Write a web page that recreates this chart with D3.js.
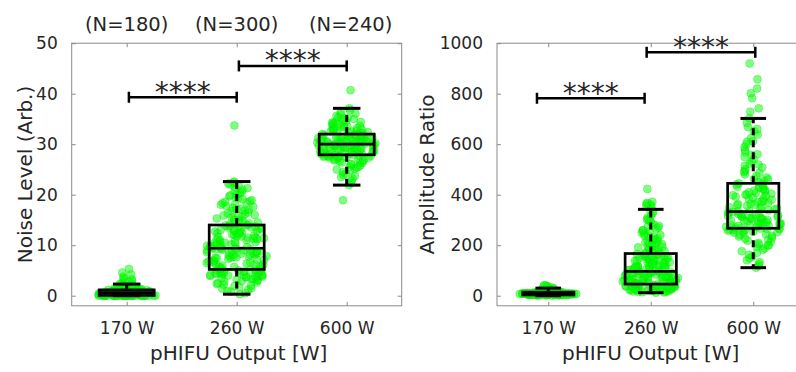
<!DOCTYPE html>
<html><head><meta charset="utf-8">
<script src="https://cdn.jsdelivr.net/npm/d3@7"></script>
<style>
body{margin:0;background:#fff}
svg{display:block}
text{font-family:"DejaVu Sans",sans-serif;fill:#262626}
</style>
</head><body>
<svg id="c" width="796" height="372"></svg>
<script>
// ---------------- DATA ----------------
const categories = ["170 W", "260 W", "600 W"];
const groupCounts = [180, 300, 240];
const noiseTicks = [0, 10, 20, 30, 40, 50];
const ampTicks = [0, 200, 400, 600, 800, 1000];

// Noise level samples (Arb.)
const noise170 = [0,0,0,0,0,0,0,0,0,0,0,0,0,0,0,0,0,0,0,0,0,0,0,0,0,0,0,0,0,0,
0.05,0.08,0.1,0.12,0.15,0.18,0.2,0.22,0.25,0.27,0.3,0.32,0.34,0.36,0.38,0.4,0.42,0.44,0.46,0.48,0.5,0.52,0.53,0.54,0.55,0.55,0.56,0.57,0.58,0.6,
0.62,0.64,0.66,0.68,0.7,0.72,0.74,0.76,0.78,0.8,0.82,0.84,0.86,0.88,0.9,0.92,0.94,0.96,0.98,1.0,1.02,1.04,1.06,1.08,1.1,1.12,1.13,1.14,1.15,1.16,
1.2,1.25,1.3,1.35,1.4,1.45,1.5,1.55,1.6,1.7,1.8,1.9,2.0,2.1,2.2,2.3,
2.5,2.7,2.9,3.1,3.3,3.5,3.8,4.2,4.6,5.3];
const noise260 = [0.3,0.5,0.8,1.0,1.2,1.4,1.5,1.7,1.9,2.0,2.2,2.3,2.5,2.6,2.8,2.9,3.0,3.1,3.2,3.3,3.4,3.5,3.6,3.7,3.8,3.8,3.9,3.9,4.0,4.0,4.1,4.1,4.2,4.3,4.3,4.4,4.5,4.5,4.6,4.6,4.7,4.8,4.8,4.9,4.9,5.0,5.0,5.1,5.1,5.2,
5.3,5.4,5.6,5.7,5.7,5.9,6.0,6.2,6.2,6.3,6.5,6.6,6.6,6.8,6.9,7.0,7.1,7.1,7.3,7.4,7.5,7.5,7.7,7.8,7.8,8.0,8.1,8.1,8.2,8.4,8.4,8.5,8.6,8.7,8.8,8.8,8.9,9.0,9.0,9.1,9.2,9.2,9.3,9.3,9.4,9.4,5.5,6.4,7.6,8.3,
9.5,9.6,9.8,9.9,9.9,10.1,10.2,10.4,10.4,10.6,10.7,10.8,11.0,11.0,11.2,11.3,11.5,11.5,11.7,11.8,11.9,12.1,12.1,12.3,12.4,12.5,12.6,12.8,12.9,12.9,13.1,13.2,13.3,13.5,13.5,13.7,13.8,13.9,14.0,14.0,9.7,10.5,11.1,11.6,12.2,12.7,13.0,13.6,10.0,11.4,
14.1,14.3,14.5,14.6,14.8,15.0,15.1,15.3,15.5,15.6,15.8,16.0,16.2,16.3,16.5,16.7,16.9,17.0,17.2,17.4,17.6,17.8,18.0,18.1,18.3,18.5,18.7,18.9,19.1,19.3,19.5,19.7,19.9,20.1,20.3,20.6,20.8,21.0,21.3,21.5,21.8,22.0,22.2,22.4,22.6,14.9,15.9,17.1,18.6,
33.7];
const noise600 = [21.9,22.3,22.8,23.2,23.5,23.9,24.2,24.5,24.8,25.0,25.2,25.4,25.6,25.8,26.0,26.1,26.3,26.4,26.5,26.6,26.7,26.8,26.9,27.0,27.1,27.2,27.3,27.3,27.4,27.5,27.5,27.6,27.6,27.7,27.7,27.8,27.8,27.9,23.7,25.5,
27.9,28.0,28.1,28.1,28.2,28.3,28.3,28.4,28.5,28.5,28.6,28.7,28.7,28.8,28.9,28.9,29.0,29.0,29.1,29.2,29.2,29.3,29.3,29.4,29.5,29.5,29.6,29.6,29.7,29.7,29.8,29.8,29.9,29.9,30.0,30.0,28.2,28.6,29.1,29.4,
30.0,30.1,30.1,30.2,30.2,30.3,30.3,30.4,30.5,30.5,30.6,30.6,30.7,30.8,30.8,30.9,30.9,31.0,31.0,31.1,31.2,31.2,31.3,31.3,31.4,31.5,31.5,31.6,31.6,31.7,31.7,31.8,31.8,31.9,31.9,32.0,30.4,30.7,31.1,31.4,
32.1,32.2,32.3,32.4,32.5,32.6,32.7,32.8,32.9,33.0,33.1,33.3,33.4,33.5,33.7,33.8,34.0,34.1,34.3,34.5,34.6,34.8,35.0,35.2,35.4,35.6,35.9,36.1,36.4,36.7,37.1,32.5,33.2,33.9,34.4,35.1,32.8,33.6,
40.7,18.9];

// Amplitude ratio samples
const amp170 = [0,1,1,2,2,2,3,3,3,3,3,4,4,4,4,4,5,5,5,5,5,5,6,6,6,6,6,6,7,7,7,7,7,7,7,8,8,8,8,8,8,8,9,9,9,9,9,9,10,10,10,10,10,11,11,11,11,11,12,12,12,12,13,13,13,13,14,14,14,14,15,15,15,16,16,16,17,17,18,18,19,19,20,20,21,22,22,23,24,25,26,27,28,30,32,34,36,38,40,42,2,3,4,5,6,7,8,9,10,11,5,6,7,8,9,4,3,6,8,10];
const amp260 = [12,13,14,15,16,17,18,19,20,21,22,23,24,25,26,27,28,29,30,30,31,32,33,33,34,35,35,36,37,37,38,39,39,40,40,41,42,42,43,43,44,44,45,45,46,46,20,28,35,41,
47,48,49,50,51,52,53,54,55,56,57,58,59,60,61,62,63,64,65,66,67,68,69,70,71,72,73,74,75,76,77,78,79,80,81,82,83,84,85,86,87,88,89,90,91,92,93,94,95,96,
97,99,100,102,103,105,106,108,110,111,113,115,116,118,120,121,123,125,127,128,130,132,134,135,137,139,141,142,144,146,148,150,151,153,155,157,158,160,162,164,165,167,104,117,126,138,149,156,112,133,
170,173,176,179,182,185,188,192,195,198,202,205,209,212,216,220,224,228,232,236,240,245,250,255,260,265,270,276,282,288,295,302,310,318,326,334,342,180,194,207,222,238,258,274,300,
352,356,360,364,368,372,423];
const amp600 = [111,118,126,133,140,148,155,162,170,176,182,188,194,199,204,209,214,218,222,226,230,234,237,240,243,246,249,251,253,255,257,259,261,262,263,264,265,266,267,200,
268,270,272,273,275,277,278,280,282,283,285,287,288,290,292,293,295,297,298,300,302,303,305,307,308,310,312,313,315,317,318,320,322,323,325,327,328,330,332,333,
335,338,341,344,347,350,353,356,359,362,365,368,371,374,377,380,383,386,389,392,395,398,401,404,407,410,413,416,419,422,425,428,431,434,437,440,443,445,360,400,
450,456,462,468,474,480,487,494,501,508,515,523,531,540,549,558,568,578,589,600,612,625,638,652,668,685,702,460,490,520,560,610,660,
729,742,782,802,821,857,920];

// Box statistics: [lower whisker, Q1, median, Q3, upper whisker]
const noiseBoxes = [[0, 0.05, 0.6, 1.15, 2.3], [0.3, 5.2, 9.4, 14.0, 22.6], [21.9, 27.9, 30.0, 32.0, 37.1]];
const ampBoxes = [[0, 3, 8, 14, 30], [12, 46, 96, 167, 342], [111, 267, 333, 445, 702]];

// Significance brackets: [from category, to category, level]
const noiseSig = [[1.02, 2.0, 39.3], [2.02, 3.0, 45.5]];
const ampSig = [[0.89, 1.94, 782], [1.96, 3.02, 964]];
const sigLabel = "****";

// ---------------- DRAW ----------------
const svg = d3.select("#c");
svg.append("rect").attr("width", 796).attr("height", 372).attr("fill", "#fff");

const panels = [
  {x0: 71.7, x1: 401.7, yDom: [-2, 50], ticks: noiseTicks, groups: [noise170, noise260, noise600],
   boxes: noiseBoxes, sig: noiseSig, ylabel: "Noise Level (Arb.)", ylabX: 31.5, showN: true},
  {x0: 497, x1: 804.5, yDom: [-40, 1000], ticks: ampTicks, groups: [amp170, amp260, amp600],
   boxes: ampBoxes, sig: ampSig, ylabel: "Amplitude Ratio", ylabX: 433.5, showN: false}
];
const yTop = 43.2, yBot = 305.8;
const FONT = '"DejaVu Sans",sans-serif';

// deterministic hash used only for horizontal jitter placement
const hash = i => { const s = Math.sin((i + 1) * 78.233 + 12.9898) * 43758.5453; return s - Math.floor(s); };

panels.forEach(p => {
  const x = d3.scaleLinear().domain([0.5, 3.5]).range([p.x0, p.x1]);
  const y = d3.scaleLinear().domain(p.yDom).range([yBot, yTop]);
  const unit = x(2) - x(1);
  const g = svg.append("g");

  // frame
  g.append("rect").attr("x", p.x0).attr("y", yTop).attr("width", p.x1 - p.x0).attr("height", yBot - yTop)
    .attr("fill", "none").attr("stroke", "#8a8a8a").attr("stroke-width", 1);

  // y ticks (left, inward) + right ticks
  const yAxisL = d3.axisLeft(y).tickValues(p.ticks).tickSize(-4).tickPadding(14).tickFormat(d3.format("d"));
  const ga = g.append("g").attr("transform", `translate(${p.x0},0)`).call(yAxisL);
  ga.select(".domain").remove();
  ga.selectAll("line").attr("stroke", "#8a8a8a");
  ga.selectAll("text").attr("font-size", 17).attr("fill", "#262626").style("font-family", FONT);
  const gr = g.append("g").attr("transform", `translate(${p.x1},0)`).call(d3.axisRight(y).tickValues(p.ticks).tickSize(-4).tickFormat(""));
  gr.select(".domain").remove();
  gr.selectAll("line").attr("stroke", "#8a8a8a");

  // x ticks bottom & top
  const xAxisB = d3.axisBottom(x).tickValues([1, 2, 3]).tickSize(-4).tickPadding(16).tickFormat((d, i) => categories[i]);
  const gb = g.append("g").attr("transform", `translate(0,${yBot})`).call(xAxisB);
  gb.select(".domain").remove();
  gb.selectAll("line").attr("stroke", "#8a8a8a");
  gb.selectAll("text").attr("font-size", 17).attr("fill", "#262626").style("font-family", FONT);
  const gt = g.append("g").attr("transform", `translate(0,${yTop})`).call(d3.axisTop(x).tickValues([1, 2, 3]).tickSize(-4).tickFormat(""));
  gt.select(".domain").remove();
  gt.selectAll("line").attr("stroke", "#8a8a8a");

  // points (density-scaled jitter)
  p.groups.forEach((vals, gi) => {
    const sorted = vals.slice().sort(d3.ascending);
    const sd = d3.deviation(vals) || 1;
    const iqr = (d3.quantile(sorted, 0.75) - d3.quantile(sorted, 0.25)) || sd;
    const h = 0.9 * Math.min(sd, iqr / 1.34) * Math.pow(vals.length, -0.2) || 0.5;
    const dens = vals.map(v => d3.sum(vals, w => Math.exp(-0.5 * ((v - w) / h) ** 2)));
    const dmax = d3.max(dens);
    const W = 0.28 * unit;
    g.append("g").selectAll("circle").data(vals).join("circle")
      .attr("cx", (v, i) => {
        const u = hash(i + gi * 1000);
        return x(gi + 1) + (u - 0.5) * 2 * W * (0.12 + 0.88 * dens[i] / dmax);
      })
      .attr("cy", v => y(v))
      .attr("r", 4)
      .attr("fill", "rgb(0,255,0)").attr("fill-opacity", 0.5)
      .attr("stroke", "rgb(0,215,0)").attr("stroke-opacity", 0.35).attr("stroke-width", 0.8);
  });

  // boxes
  p.boxes.forEach((b, gi) => {
    const cx = x(gi + 1), bw = 0.5 * unit, cw = 0.25 * unit;
    const [wl, q1, med, q3, wh] = b;
    const bg = g.append("g").attr("stroke", "#000").attr("fill", "none");
    bg.append("line").attr("x1", cx).attr("x2", cx).attr("y1", y(q3)).attr("y2", y(wh))
      .attr("stroke-width", 3).attr("stroke-dasharray", "7,5");
    bg.append("line").attr("x1", cx).attr("x2", cx).attr("y1", y(q1)).attr("y2", y(wl))
      .attr("stroke-width", 3).attr("stroke-dasharray", "7,5");
    bg.append("line").attr("x1", cx - cw / 2).attr("x2", cx + cw / 2).attr("y1", y(wh)).attr("y2", y(wh)).attr("stroke-width", 3);
    bg.append("line").attr("x1", cx - cw / 2).attr("x2", cx + cw / 2).attr("y1", y(wl)).attr("y2", y(wl)).attr("stroke-width", 3);
    bg.append("rect").attr("x", cx - bw / 2).attr("y", y(q3)).attr("width", bw).attr("height", y(q1) - y(q3)).attr("stroke-width", 2.7);
    bg.append("line").attr("x1", cx - bw / 2).attr("x2", cx + bw / 2).attr("y1", y(med)).attr("y2", y(med)).attr("stroke-width", 2.7);
  });

  // significance brackets
  p.sig.forEach(s => {
    const [a, b, lv] = s;
    const sg = g.append("g").attr("stroke", "#000").attr("stroke-width", 2.5);
    sg.append("line").attr("x1", x(a)).attr("x2", x(b)).attr("y1", y(lv)).attr("y2", y(lv));
    sg.append("line").attr("x1", x(a)).attr("x2", x(a)).attr("y1", y(lv) - 5.5).attr("y2", y(lv) + 5.5);
    sg.append("line").attr("x1", x(b)).attr("x2", x(b)).attr("y1", y(lv) - 5.5).attr("y2", y(lv) + 5.5);
    g.append("text").attr("x", (x(a) + x(b)) / 2).attr("y", y(lv) + 4.5).attr("text-anchor", "middle")
      .attr("font-size", 28).attr("fill", "#111").text(sigLabel);
  });

  // axis labels
  g.append("text").attr("x", p.showN ? (p.x0 + p.x1) / 2 + 2 : (x(1) + x(3)) / 2).attr("y", 360)
    .attr("text-anchor", "middle").attr("font-size", 20).text("pHIFU Output [W]");
  g.append("text").attr("transform", `translate(${p.ylabX},${(yTop + yBot) / 2}) rotate(-90)`)
    .attr("text-anchor", "middle").attr("font-size", 20).text(p.ylabel);

  if (p.showN) {
    groupCounts.forEach((n, i) => {
      g.append("text").attr("x", x(i + 1) + (i === 2 ? 4 : 0)).attr("y", 31).attr("text-anchor", "middle")
        .attr("font-size", 19.5).text(`(N=${n})`);
    });
  }
});
</script>
</body></html>
